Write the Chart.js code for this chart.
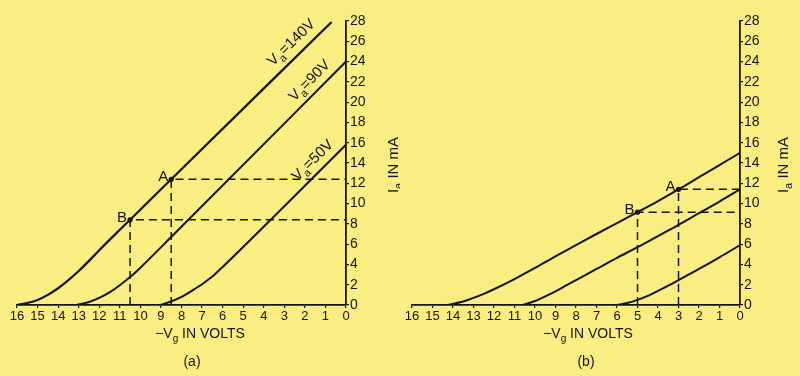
<!DOCTYPE html>
<html>
<head>
<meta charset="utf-8">
<script src="https://cdn.jsdelivr.net/npm/chart.js@4.4.0/dist/chart.umd.min.js"></script>
<style>
  html, body { margin: 0; padding: 0; background: #FAEE82; }
  #wrap { position: relative; width: 800px; height: 376px; background: #FAEE82; overflow: hidden; }
  canvas { position: absolute; top: 0; }
  #ca { left: 0; }
  #cb { left: 400px; }
</style>
</head>
<body>
<div id="wrap">
  <canvas id="ca" width="400" height="376"></canvas>
  <canvas id="cb" width="400" height="376"></canvas>
</div>
<script>
// ---------- DATA ----------
// Chart (a)
const vgA140 = [16, 15.5, 15, 14.5, 14, 13.5, 13, 12.5, 12, 11.5, 11, 10.5, 8.5, 0.7];
const iaA140 = [0, 0.2, 0.5, 1.0, 1.65, 2.45, 3.35, 4.35, 5.4, 6.42, 7.42, 8.4, 12.4, 27.9];
const vgA90  = [13.1, 12.5, 12, 11.5, 11, 10.5, 10, 8.5, 0];
const iaA90  = [0, 0.3, 0.7, 1.25, 1.95, 2.75, 3.68, 6.7, 24.0];
const vgA50  = [9.05, 8.5, 8, 7.5, 7, 6.5, 6, 0];
const iaA50  = [0, 0.35, 0.8, 1.4, 2.05, 2.8, 3.75, 15.8];
const pointsA = { A: [8.5, 12.4], B: [10.5, 8.4] };
const labelsA = ["Va=140V", "Va=90V", "Va=50V"];

// Chart (b)
const vgB1 = [14.3, 13.5, 13, 12.5, 12, 11, 10, 9, 8, 7, 6, 5, 4, 3, 2, 1, 0];
const iaB1 = [0, 0.35, 0.7, 1.1, 1.55, 2.55, 3.65, 4.8, 5.9, 7.0, 8.07, 9.15, 10.25, 11.4, 12.6, 13.8, 15.0];
const vgB2 = [10.6, 10, 9.5, 9, 8.5, 8, 7, 6, 5, 4, 3, 2, 1, 0];
const iaB2 = [0, 0.4, 0.85, 1.35, 1.9, 2.45, 3.55, 4.65, 5.7, 6.8, 7.9, 9.05, 10.2, 11.4];
const vgB3 = [6, 5.5, 5, 4.5, 4, 3.5, 3, 2, 1, 0];
const iaB3 = [0, 0.2, 0.5, 0.9, 1.4, 1.9, 2.45, 3.55, 4.7, 5.9];
const pointsB = { A: [3, 11.4], B: [5, 9.15] };

const xTicks = [16, 15, 14, 13, 12, 11, 10, 9, 8, 7, 6, 5, 4, 3, 2, 1, 0];
const yTicks = [0, 2, 4, 6, 8, 10, 12, 14, 16, 18, 20, 22, 24, 26, 28];

// ---------- HELPERS ----------
const INK = '#141414';
const FONT = "'Liberation Sans Narrow', 'Liberation Sans', sans-serif";
const zip = (xs, ys) => xs.map((x, i) => ({ x: x, y: ys[i] }));

function curve(xs, ys, w) {
  return { data: zip(xs, ys), borderColor: INK, borderWidth: w, pointRadius: 0,
           showLine: true, cubicInterpolationMode: 'monotone', fill: false };
}
function guide(p) {
  return { data: [{ x: p[0], y: 0 }, { x: p[0], y: p[1] }, { x: 0, y: p[1] }],
           borderColor: INK, borderWidth: 1.5, borderDash: [8, 5], pointRadius: 0,
           showLine: true, tension: 0, fill: false };
}
function dots(pts) {
  return { data: [{ x: pts.A[0], y: pts.A[1] }, { x: pts.B[0], y: pts.B[1] }],
           showLine: false, pointRadius: 2.6, pointBackgroundColor: INK,
           pointBorderColor: INK, borderWidth: 0 };
}

function drawParts(ctx, parts, size, cx, cy, align) {
  ctx.save();
  let total = 0;
  const widths = parts.map(p => {
    ctx.font = (p[1] ? Math.round(size * 0.72) : size) + 'px ' + FONT;
    const w = ctx.measureText(p[0]).width;
    total += w; return w;
  });
  let x = align === 'center' ? cx - total / 2 : cx;
  ctx.textBaseline = 'alphabetic';
  ctx.textAlign = 'left';
  ctx.fillStyle = INK;
  parts.forEach((p, i) => {
    ctx.font = (p[1] ? Math.round(size * 0.72) : size) + 'px ' + FONT;
    ctx.fillText(p[0], x, cy + (p[1] ? size * 0.28 : 0));
    x += widths[i];
  });
  ctx.restore();
}

function splitLabel(s) {
  return [[s[0], false], [s[1], true], [s.slice(2), false]];
}

function interpY(xs, ys, v) {
  for (let i = 0; i < xs.length - 1; i++) {
    const a = xs[i], b = xs[i + 1];
    if ((v <= a && v >= b) || (v >= a && v <= b)) {
      const t = (v - a) / (b - a);
      return ys[i] + t * (ys[i + 1] - ys[i]);
    }
  }
  return ys[ys.length - 1];
}

function makeChart(id, datasets, cfg) {
  const textPlugin = {
    id: 'texts',
    afterDraw(chart) {
      const ctx = chart.ctx;
      const xs = chart.scales.x, ys = chart.scales.y;
      ctx.save();
      ctx.font = '15px ' + FONT;
      ctx.fillStyle = INK;
      ctx.textAlign = 'right';
      ctx.textBaseline = 'alphabetic';
      ['A', 'B'].forEach(k => {
        const px = xs.getPixelForValue(cfg.points[k][0]);
        const py = ys.getPixelForValue(cfg.points[k][1]);
        ctx.fillText(k, px - 3, py + 2);
      });
      ctx.restore();
      drawParts(ctx, [['\u2212V', false], ['g', true], [' IN VOLTS', false]], 14,
                cfg.xTitleX, 338, 'center');
      ctx.save();
      ctx.font = '14px ' + FONT;
      ctx.fillStyle = INK;
      ctx.textAlign = 'center';
      ctx.textBaseline = 'middle';
      ctx.fillText(cfg.caption, cfg.captionX, 362);
      ctx.restore();
      ctx.save();
      ctx.translate(cfg.yTitleX, 165);
      ctx.rotate(-Math.PI / 2);
      drawParts(ctx, [['I', false], ['a', true], [' IN mA', false]], 15, 0, 5, 'center');
      ctx.restore();
      (cfg.curveLabels || []).forEach(L => {
        const yv = interpY(L.xs, L.ys, L.at);
        const px = xs.getPixelForValue(L.at), py = ys.getPixelForValue(yv);
        const x2 = xs.getPixelForValue(L.at - 1), y2 = ys.getPixelForValue(interpY(L.xs, L.ys, L.at - 1));
        const ang = Math.atan2(y2 - py, x2 - px);
        ctx.save();
        ctx.translate(px, py);
        ctx.rotate(ang);
        drawParts(ctx, splitLabel(L.text), 15, 0, -L.off, 'center');
        ctx.restore();
      });
    }
  };

  return new Chart(document.getElementById(id), {
    type: 'scatter',
    data: { datasets: datasets },
    options: {
      responsive: false,
      devicePixelRatio: 1,
      animation: false,
      layout: { padding: { left: cfg.padLeft, top: 21, right: 0, bottom: 0 } },
      plugins: { legend: { display: false }, tooltip: { enabled: false } },
      scales: {
        x: {
          type: 'linear', reverse: true, min: 0, max: 16, position: 'bottom',
          afterBuildTicks: s => { s.ticks = xTicks.map(v => ({ value: v })); },
          afterFit: s => { s.height = 71; },
          ticks: { color: INK, font: { size: 13, family: FONT }, padding: 1,
                   maxRotation: 0, autoSkip: false },
          grid: { drawOnChartArea: false, drawTicks: true, tickLength: 3, color: INK, lineWidth: 1.2 },
          border: { display: true, color: INK, width: 1.8 }
        },
        y: {
          type: 'linear', min: 0, max: 28, position: 'right',
          afterBuildTicks: s => { s.ticks = yTicks.map(v => ({ value: v })); },
          afterFit: s => { s.width = cfg.yWidth; },
          ticks: { color: INK, font: { size: 14, family: FONT }, padding: 1, autoSkip: false },
          grid: { drawOnChartArea: false, drawTicks: true, tickLength: 3, color: INK, lineWidth: 1.2 },
          border: { display: true, color: INK, width: 1.8 }
        }
      }
    },
    plugins: [textPlugin]
  });
}

// ---------- CHART (a) ----------
makeChart('ca', [
  curve(vgA140, iaA140, 2.2),
  curve(vgA90, iaA90, 2),
  curve(vgA50, iaA50, 2),
  guide(pointsA.A),
  guide(pointsA.B),
  dots(pointsA)
], {
  padLeft: 17, yWidth: 54, points: pointsA,
  xTitleX: 200, caption: '(a)', captionX: 192, yTitleX: 393,
  curveLabels: [
    { text: labelsA[0], xs: vgA140, ys: iaA140, at: 2.2, off: 9 },
    { text: labelsA[1], xs: vgA90, ys: iaA90, at: 1.35, off: 8 },
    { text: labelsA[2], xs: vgA50, ys: iaA50, at: 1.2, off: 8 }
  ]
});

// ---------- CHART (b) ----------
makeChart('cb', [
  curve(vgB1, iaB1, 2),
  curve(vgB2, iaB2, 2),
  curve(vgB3, iaB3, 2),
  guide(pointsB.A),
  guide(pointsB.B),
  dots(pointsB)
], {
  padLeft: 12, yWidth: 60, points: pointsB,
  xTitleX: 188, caption: '(b)', captionX: 186, yTitleX: 383
});
</script>
</body>
</html>
